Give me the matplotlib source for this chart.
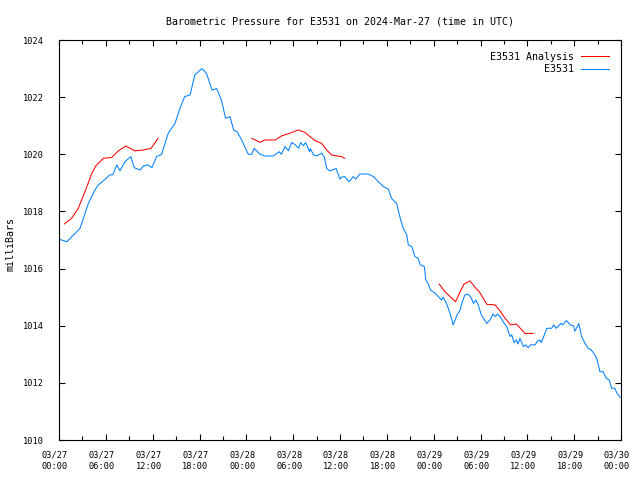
import matplotlib
matplotlib.use('Agg')
import matplotlib.pyplot as plt
import matplotlib.transforms as mtransforms
import numpy as np
from matplotlib.ticker import MultipleLocator

# hours since 2024-03-27 00:00 UTC
obs_hours = [0.1, 1.0, 2.05, 2.7, 3.33, 3.76, 4.6, 5.04, 5.9, 6.5, 6.9, 7.4, 7.8, 8.45, 9.2,
             9.65, 10.4, 10.8, 11.4, 11.9, 12.5, 13.15, 14.0, 14.86, 15.5, 16.1, 16.8, 17.4,
             18.3, 18.9, 19.6, 20.2, 20.8, 21.35, 21.9, 22.4, 22.8, 23.4, 24.25, 24.7, 25.0,
             25.75, 26.4, 27.45, 28.2, 28.5, 28.95, 29.4, 29.8, 30.2, 30.7, 30.95, 31.3, 31.6,
             32.1, 32.2, 32.6, 33.0, 33.65, 34.0, 34.3, 34.7, 35.5, 36.0, 36.2, 36.6, 37.15,
             37.7, 38.0, 38.56, 39.6, 40.3, 40.9, 41.55, 42.2, 42.6, 43.25, 43.7, 44.1, 44.55,
             44.75, 45.2, 45.6, 46.0, 46.3, 46.8, 47.0, 47.3, 47.6, 48.2, 48.6, 49.0, 49.2,
             49.65, 50.1, 50.5, 51.0, 51.4, 51.6, 52.0, 52.45, 52.8, 53.1, 53.4, 53.7, 54.1,
             54.8, 55.2, 55.6, 55.9, 56.2, 56.5, 56.9, 57.35, 57.8, 58.0, 58.3, 58.6, 58.8,
             59.05, 59.5, 59.8, 60.1, 60.4, 61.0, 61.3, 61.6, 61.8, 62.5, 63.1, 63.4, 63.7,
             64.3, 64.5, 65.0, 65.5, 65.9, 66.1, 66.6, 66.95, 67.4, 67.8, 68.2, 68.65, 68.95,
             69.3, 69.7, 70.1, 70.5, 70.8, 71.2, 71.5, 71.9]
obs_mb = [1017.02, 1016.94, 1017.23, 1017.41, 1017.93, 1018.28, 1018.75, 1018.93, 1019.12,
          1019.28, 1019.28, 1019.63, 1019.42, 1019.74, 1019.92, 1019.53, 1019.45, 1019.59,
          1019.63, 1019.53, 1019.92, 1020.0, 1020.74, 1021.08, 1021.61, 1022.02, 1022.08,
          1022.78, 1023.0, 1022.83, 1022.25, 1022.3, 1021.9, 1021.26, 1021.32, 1020.83,
          1020.8, 1020.5, 1020.0, 1020.0, 1020.21, 1020.0, 1019.94, 1019.94, 1020.09, 1020.0,
          1020.27, 1020.13, 1020.41, 1020.35, 1020.21, 1020.41, 1020.3, 1020.41, 1020.09,
          1020.2, 1019.98, 1019.94, 1020.04, 1019.9, 1019.5, 1019.42, 1019.5, 1019.13,
          1019.2, 1019.22, 1019.04, 1019.22, 1019.13, 1019.31, 1019.31, 1019.22, 1019.04,
          1018.87, 1018.78, 1018.46, 1018.28, 1017.78, 1017.41, 1017.18, 1016.83, 1016.77,
          1016.42, 1016.36, 1016.13, 1016.07, 1015.6, 1015.48, 1015.25, 1015.13, 1015.02,
          1014.9, 1015.0, 1014.78, 1014.43, 1014.03, 1014.38, 1014.55, 1014.78, 1015.08,
          1015.1, 1014.98, 1014.78, 1014.9, 1014.73, 1014.38, 1014.08, 1014.2, 1014.41,
          1014.32, 1014.41, 1014.32, 1014.14, 1013.97, 1013.62, 1013.68, 1013.41, 1013.5,
          1013.36, 1013.56, 1013.27, 1013.33, 1013.23, 1013.33, 1013.33, 1013.46, 1013.5,
          1013.41, 1013.91, 1013.91, 1014.03, 1013.91, 1014.08, 1014.03, 1014.18, 1014.03,
          1014.0, 1013.81, 1014.08, 1013.62, 1013.38, 1013.21, 1013.15, 1012.98, 1012.8,
          1012.39, 1012.39, 1012.16, 1012.1, 1011.81, 1011.81, 1011.63, 1011.49]

# analysis comes in three separate runs (gaps between them)
ana_hours = [[0.68, 1.62, 2.47, 3.33, 4.2, 4.7, 5.7, 6.75, 7.6, 8.55, 9.7, 10.8, 11.8, 12.7],
             [24.7, 25.75, 26.4, 27.7, 28.5, 29.6, 30.65, 31.5, 32.15, 32.8, 33.65, 34.3,
              34.9, 35.6, 36.2, 36.6],
             [48.7, 49.45, 50.1, 50.8, 51.4, 51.9, 52.65, 53.3, 53.85, 54.35, 54.8, 55.85,
              56.5, 57.1, 57.85, 58.6, 59.7, 60.75]]
ana_mb = [[1017.56, 1017.76, 1018.11, 1018.69, 1019.33, 1019.59, 1019.86, 1019.89, 1020.12,
           1020.29, 1020.12, 1020.15, 1020.21, 1020.56],
          [1020.56, 1020.42, 1020.5, 1020.5, 1020.64, 1020.74, 1020.85, 1020.77, 1020.62,
           1020.48, 1020.38, 1020.15, 1019.98, 1019.94, 1019.92, 1019.86],
          [1015.46, 1015.19, 1015.02, 1014.84, 1015.19, 1015.46, 1015.57, 1015.34, 1015.19,
           1014.96, 1014.75, 1014.73, 1014.52, 1014.28, 1014.03, 1014.06, 1013.73, 1013.73]]

tick_labels = ['03/27\n00:00', '03/27\n06:00', '03/27\n12:00', '03/27\n18:00',
               '03/28\n00:00', '03/28\n06:00', '03/28\n12:00', '03/28\n18:00',
               '03/29\n00:00', '03/29\n06:00', '03/29\n12:00', '03/29\n18:00',
               '03/30\n00:00']

plt.rcParams['font.family'] = ['DejaVu Sans Mono']
plt.rcParams['font.size'] = 7.2

fig = plt.figure(figsize=(6.4, 4.8), dpi=100)
ax = fig.add_axes([59 / 640, 40 / 480, 562 / 640, 400 / 480])

for i, (h, v) in enumerate(zip(ana_hours, ana_mb)):
    ax.plot(h, v, color='#ff0000', lw=0.75, label='E3531 Analysis' if i == 0 else None)
ax.plot(obs_hours, obs_mb, color='#0080ff', lw=0.75, label='E3531')

ax.set_xlim(0, 72)
ax.set_ylim(1010, 1024)
ax.set_xticks(np.arange(0, 73, 6))
ax.set_xticklabels(tick_labels, fontsize=6.2, linespacing=1.35)
ax.xaxis.set_minor_locator(MultipleLocator(3))
ax.yaxis.set_major_locator(MultipleLocator(2))
for lab in ax.get_yticklabels():
    lab.set_fontsize(6.2)
ax.tick_params(which='both', direction='in', top=True, right=True, width=0.8)
ax.tick_params(which='major', length=4.5)
ax.tick_params(which='minor', length=3)
ax.tick_params(axis='x', pad=7.5)
ax.tick_params(axis='y', pad=11)
# gnuplot puts the x labels a few pixels left of their ticks
shift = mtransforms.ScaledTranslation(-4 / 100, 0, fig.dpi_scale_trans)
for lab in ax.get_xticklabels():
    lab.set_transform(lab.get_transform() + shift)
for s in ax.spines.values():
    s.set_linewidth(0.8)

ax.set_ylabel('milliBars')
ax.yaxis.set_label_coords(-43 / 562, 0.49)
ax.set_title('Barometric Pressure for E3531 on 2024-Mar-27 (time in UTC)',
             fontsize=7.2, pad=11)
ax.legend(loc='upper right', frameon=False, markerfirst=False, handlelength=2.8,
          borderaxespad=0.8, labelspacing=0.25, handletextpad=0.7)

fig.savefig('out.png', dpi=100)
